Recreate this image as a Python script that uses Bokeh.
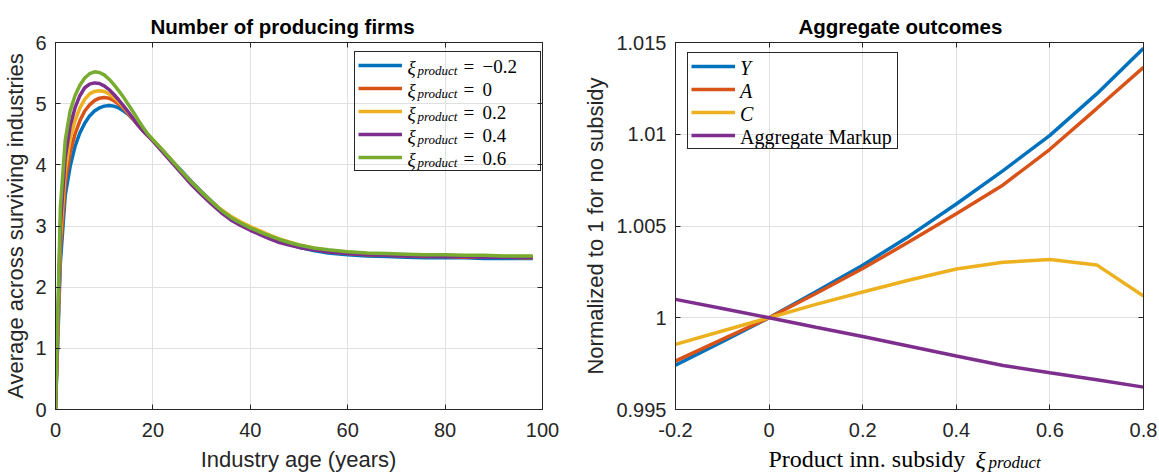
from bokeh.plotting import figure
from bokeh.models import (Range1d, FixedTicker, LinearAxis, Legend, LegendItem,
                          Label, CustomJSTickFormatter)
from bokeh.layouts import row, column
from bokeh.embed import file_html
from bokeh.resources import INLINE

# ---------------- data: left panel ----------------
ages = [0, 1, 2, 3, 4, 5, 6, 7, 8, 9, 10, 11, 12, 13, 14, 15, 16, 17, 18, 19,
        20, 22, 24, 26, 28, 30, 32, 34, 36, 38, 40, 42, 44, 46, 48, 50, 53, 56,
        60, 64, 68, 72, 76, 80, 84, 88, 92, 96, 98]
firms_m02 = [0, 2.4, 3.5, 3.97, 4.3, 4.52, 4.68, 4.8, 4.88, 4.93, 4.96, 4.97, 4.96, 4.93, 4.88, 4.82, 4.74, 4.65, 4.56, 4.48,
             4.40, 4.23, 4.06, 3.89, 3.72, 3.56, 3.41, 3.26, 3.14, 3.04, 2.96, 2.88, 2.81, 2.75, 2.70, 2.65, 2.60, 2.56,
             2.53, 2.51, 2.50, 2.49, 2.48, 2.48, 2.48, 2.47, 2.47, 2.47, 2.47]
firms_0 = [0, 2.6, 3.7, 4.2, 4.5, 4.72, 4.88, 4.98, 5.05, 5.09, 5.10, 5.09, 5.05, 4.99, 4.92, 4.83, 4.74, 4.65, 4.56, 4.48,
           4.40, 4.23, 4.05, 3.87, 3.70, 3.54, 3.39, 3.25, 3.13, 3.04, 2.96, 2.89, 2.82, 2.76, 2.71, 2.67, 2.62, 2.58,
           2.55, 2.53, 2.52, 2.51, 2.50, 2.50, 2.49, 2.49, 2.49, 2.48, 2.48]
firms_02 = [0, 2.8, 3.9, 4.42, 4.72, 4.93, 5.07, 5.16, 5.20, 5.21, 5.20, 5.16, 5.10, 5.03, 4.94, 4.85, 4.75, 4.65, 4.56, 4.48,
            4.41, 4.24, 4.06, 3.88, 3.71, 3.55, 3.40, 3.27, 3.16, 3.07, 2.99, 2.92, 2.85, 2.79, 2.74, 2.69, 2.64, 2.60,
            2.57, 2.55, 2.54, 2.53, 2.52, 2.52, 2.51, 2.51, 2.50, 2.50, 2.50]
firms_04 = [0, 3.0, 4.12, 4.63, 4.93, 5.13, 5.26, 5.32, 5.34, 5.33, 5.29, 5.23, 5.15, 5.06, 4.96, 4.86, 4.75, 4.64, 4.55, 4.47,
            4.39, 4.21, 4.03, 3.85, 3.67, 3.51, 3.36, 3.22, 3.10, 3.01, 2.93, 2.86, 2.79, 2.73, 2.69, 2.65, 2.61, 2.58,
            2.55, 2.53, 2.52, 2.51, 2.51, 2.50, 2.50, 2.49, 2.49, 2.49, 2.49]
firms_06 = [0, 3.3, 4.4, 4.88, 5.13, 5.30, 5.42, 5.49, 5.52, 5.51, 5.47, 5.40, 5.31, 5.21, 5.10, 4.98, 4.86, 4.73, 4.61, 4.50,
            4.41, 4.24, 4.06, 3.88, 3.71, 3.55, 3.40, 3.26, 3.14, 3.05, 2.97, 2.90, 2.84, 2.78, 2.73, 2.69, 2.64, 2.61,
            2.58, 2.56, 2.55, 2.54, 2.53, 2.53, 2.52, 2.52, 2.51, 2.51, 2.51]
left_series = [firms_m02, firms_0, firms_02, firms_04, firms_06]
left_values = ["\u22120.2", "0", "0.2", "0.4", "0.6"]
left_xticks = [0, 20, 40, 60, 80, 100]
left_yticks = [0, 1, 2, 3, 4, 5, 6]

# ---------------- data: right panel ----------------
subsidy = [-0.2, -0.1, 0.0, 0.1, 0.2, 0.3, 0.4, 0.5, 0.6, 0.7, 0.8]
agg_Y = [0.99742, 0.99870, 1.0, 1.00142, 1.00286, 1.00446, 1.00620, 1.00802, 1.00994, 1.01220, 1.01468]
agg_A = [0.99764, 0.99882, 1.0, 1.00132, 1.00268, 1.00415, 1.00567, 1.00724, 1.00918, 1.01140, 1.01365]
agg_C = [0.99855, 0.99928, 1.0, 1.00073, 1.00140, 1.00206, 1.00266, 1.00302, 1.00318, 1.00288, 1.00118]
agg_markup = [1.00100, 1.00050, 1.0, 0.99948, 0.99898, 0.99845, 0.99792, 0.99740, 0.99700, 0.99662, 0.99622]
right_series = [agg_Y, agg_A, agg_C, agg_markup]
right_names = ["Y", "A", "C", "Aggregate Markup"]
right_xticks = [-0.2, 0.0, 0.2, 0.4, 0.6, 0.8]
right_yticks = [0.995, 1.0, 1.005, 1.01, 1.015]

colors = ["#0072BD", "#D95319", "#EDB120", "#7E2F8E", "#77AC30"]
AX = "#262626"
GRID = "#e0e0e0"
SANS = "Liberation Sans"
SERIF = "Liberation Serif"
H_TOTAL = 472
H = 445          # height of the two chart figures; a text strip fills the rest
TOP, BOT = 42, 409


def style(p, xt, yt):
    bx, ly = p.below[0], p.left[0]
    for ax in (bx, ly):
        ax.axis_line_color = AX
        ax.major_tick_line_color = AX
        ax.major_tick_in = 5
        ax.major_tick_out = 0
        ax.minor_tick_line_color = None
        ax.major_label_text_font = SANS
        ax.major_label_text_font_size = "20px"
        ax.major_label_text_color = AX
        ax.axis_label_text_font = SANS
        ax.axis_label_text_font_size = "22px"
        ax.axis_label_text_font_style = "normal"
        ax.axis_label_text_color = AX
    bx.ticker = FixedTicker(ticks=xt)
    ly.ticker = FixedTicker(ticks=yt)
    bx.major_label_standoff = 13
    ly.major_label_standoff = 9
    p.xgrid.ticker = FixedTicker(ticks=xt)
    p.ygrid.ticker = FixedTicker(ticks=yt)
    p.xgrid.grid_line_color = GRID
    p.ygrid.grid_line_color = GRID
    p.outline_line_color = AX
    p.outline_line_alpha = 1
    # ticks on top and right (box)
    blank = CustomJSTickFormatter(code="return '';")
    for side, t in (("above", xt), ("right", yt)):
        a = LinearAxis(ticker=FixedTicker(ticks=t), formatter=blank,
                       major_tick_in=5, major_tick_out=0, minor_tick_line_color=None,
                       axis_line_color=AX, major_tick_line_color=AX,
                       major_label_standoff=0, major_label_text_font_size="1px")
        p.add_layout(a, side)
    p.title.text_font = SANS
    p.title.text_font_size = "20.5px"
    p.title.text_font_style = "bold"
    p.title.text_color = "black"
    p.title.align = "left"
    return bx, ly


def make_conv(fl, fr, x0, x1, y0, y1):
    def cx(px):
        return x0 + (px - fl) / (fr - fl) * (x1 - x0)

    def cy(py):
        return y1 - (py - TOP) / (BOT - TOP) * (y1 - y0)
    return cx, cy


def lab(p, x, y, text, size, style_="normal", font=SERIF, align="left", color="black"):
    p.add_layout(Label(x=x, y=y, text=text, text_font=font, text_font_size=size,
                       text_font_style=style_, text_align=align,
                       text_baseline="middle", text_color=color, level="overlay"))


# ================= left panel =================
W1 = 580
p1 = figure(width=W1, height=H, x_range=Range1d(0, 100), y_range=Range1d(0, 6),
            output_backend="svg", toolbar_location=None,
            min_border_left=55, min_border_right=W1 - 542,
            min_border_top=TOP, min_border_bottom=H - BOT,
            title="Number of producing firms")
bx1, ly1 = style(p1, left_xticks, left_yticks)
p1.title.offset = 150 - 55
ly1.axis_label = "Average across surviving industries"
ly1.axis_label_standoff = 4
cx1, cy1 = make_conv(55, 542, 0, 100, 0, 6)

items = []
for s, c in zip(left_series, colors):
    r = p1.line(ages, s, line_color=c, line_width=3.5)
    items.append(LegendItem(label=" ", renderers=[r]))
leg1 = Legend(items=items, location=(299, 238), glyph_width=44, glyph_height=20,
              label_height=20, label_width=131, label_standoff=4, spacing=3, padding=3,
              border_line_color=AX, border_line_alpha=1, label_text_font_size="1px",
              background_fill_color="white", background_fill_alpha=0)
p1.add_layout(leg1)
for i, v in enumerate(left_values):
    cyp = 65.5 + 23 * i
    lab(p1, cx1(407), cy1(cyp + 1), "\u03be", "19px", "italic")
    lab(p1, cx1(417), cy1(cyp + 4), "product", "13px", "italic")
    lab(p1, cx1(463), cy1(cyp), "=", "19px")
    lab(p1, cx1(482), cy1(cyp), v, "19px")

# ================= right panel =================
W2 = 579
FL2 = 672 - W1
FR2 = 1143 - W1
p2 = figure(width=W2, height=H, x_range=Range1d(-0.2, 0.8), y_range=Range1d(0.995, 1.015),
            output_backend="svg", toolbar_location=None,
            min_border_left=FL2, min_border_right=W2 - FR2,
            min_border_top=TOP, min_border_bottom=H - BOT,
            title="Aggregate outcomes")
bx2, ly2 = style(p2, right_xticks, right_yticks)
p2.title.offset = 795 - 672
fmt = CustomJSTickFormatter(code="return String(Math.round(tick*1000)/1000);")
bx2.formatter = fmt
ly2.formatter = fmt
ly2.axis_label = "Normalized to 1 for no subsidy"
ly2.axis_label_standoff = 5
cx2, cy2 = make_conv(FL2, FR2, -0.2, 0.8, 0.995, 1.015)

items2 = []
for s, c in zip(right_series, colors):
    r = p2.line(subsidy, s, line_color=c, line_width=3.5)
    items2.append(LegendItem(label=" ", renderers=[r]))
leg2 = Legend(items=items2, location=(12, 260), glyph_width=44, glyph_height=20,
              label_height=20, label_width=155, label_standoff=4, spacing=3, padding=3,
              border_line_color=AX, border_line_alpha=1, label_text_font_size="1px",
              background_fill_color="white", background_fill_alpha=0)
p2.add_layout(leg2)
for i, nm in enumerate(right_names):
    cyp = 67 + 23 * i
    st = "italic" if len(nm) == 1 else "normal"
    lab(p2, cx2(737 - W1), cy2(cyp), nm, "20px", st)

# ================= x-axis titles strip =================
HS = H_TOTAL - H
strip = figure(width=W1 + W2, height=HS, x_range=Range1d(0, W1 + W2), y_range=Range1d(0, HS),
               output_backend="svg", toolbar_location=None, min_border=0, title=None,
               x_axis_location=None, y_axis_location=None)
strip.grid.visible = False
strip.outline_line_color = None


def sy(py):
    return H_TOTAL - py


lab(strip, 298, sy(459), "Industry age (years)", "22px", font=SANS, align="center", color=AX)
lab(strip, 768, sy(458.5), "Product inn. subsidy", "24px")
lab(strip, 975, sy(459), "\u03be", "24px", "italic")
lab(strip, 988, sy(461.5), "product", "17px", "italic")

layout = column(row(p1, p2), strip)
open("out.html", "w").write(file_html(layout, INLINE))
